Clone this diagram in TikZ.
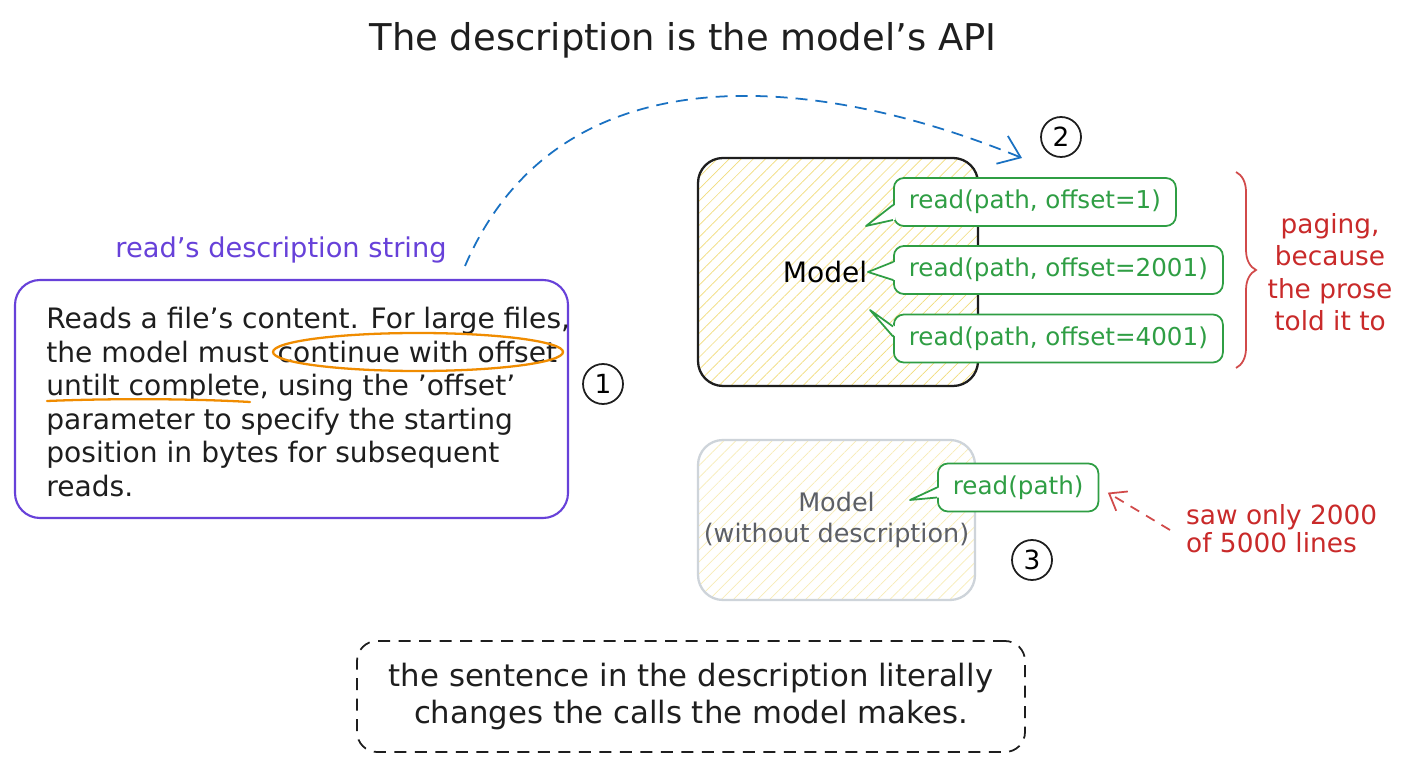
\documentclass[tikz,border=0pt]{standalone}
\usepackage{fontspec}
\setmainfont{DejaVu Sans}
\usepackage{tikz}
\usetikzlibrary{positioning,calc,arrows.meta,patterns.meta,
                decorations.pathreplacing}
\definecolor{ink}      {HTML}{1E1E1E}
\definecolor{violet}   {HTML}{6741D9}
\definecolor{marker}   {HTML}{F08C00}
\definecolor{linkblue} {HTML}{1971C2}
\definecolor{callgreen}{HTML}{2F9E44}
\definecolor{notered}  {HTML}{C92A2A}
\definecolor{greyline} {HTML}{CED4DA}
\definecolor{greytext} {HTML}{5C5F66}
\definecolor{hatch}    {HTML}{F2DC7A}
\newcommand{\fsz}[2]{\fontsize{#1}{#2}\selectfont}
\tikzset{
  every node/.style={font=\fsz{16}{19}},
  % --- nodes
  title/.style   = {font=\fsz{21}{25}, text=ink},
  tag/.style     = {font=\fsz{15.5}{19}, text=violet},
  descbox/.style = {draw=violet, line width=1.2pt, rounded corners=5mm,
                    minimum width=110.6mm, minimum height=47.6mm},
  desctext/.style= {align=left, font=\fsz{16}{19.06}, text=ink, inner sep=0pt},
  num/.style     = {circle, draw=ink, line width=1pt, minimum size=8mm,
                    inner sep=0pt, font=\fsz{15}{18}},
  modelbox/.style= {draw=ink, line width=1.3pt, rounded corners=5mm, inner sep=0pt,
                    pattern={Lines[angle=45,distance=1.7mm,line width=0.4pt]},
                    pattern color=hatch},
  ghostbox/.style= {modelbox, draw=greyline, pattern color=hatch!55, text=greytext,
                    align=center, font=\fsz{14.5}{18}},
  call/.style    = {draw=callgreen, fill=white, line width=1pt, rounded corners=2mm,
                    text=callgreen, font=\fsz{14}{17}, minimum height=9.6mm,
                    inner xsep=3mm, anchor=west},
  remark/.style  = {text=notered, font=\fsz{15}{18.5}},
  takeaway/.style= {draw=ink, line width=1pt, dash pattern=on 2.4mm off 1.7mm,
                    rounded corners=4mm, minimum width=133.6mm, minimum height=22.2mm,
                    align=center, font=\fsz{17.5}{21}, text=ink},
  % --- edges
  tailline/.style= {draw=callgreen, line width=1pt, line join=round},
  link/.style    = {draw=linkblue, line width=1pt, dash pattern=on 2.4mm off 1.6mm,
                    -{Straight Barb[length=4mm,width=6mm]}},
  hint/.style    = {draw=notered!85, line width=1pt, dash pattern=on 2mm off 1.6mm,
                    -{Straight Barb[length=3mm,width=4.5mm]}},
  hilite/.style  = {draw=marker, line width=1.3pt, line cap=round},
}
\begin{document}
\begin{tikzpicture}[x=0.2mm,y=-0.2mm]
  \fill[white] (0,0) rectangle (1408,768);
  \useasboundingbox (0,0) rectangle (1408,768);

  \node[title] (head) at (683,40) {The description is the model's API};

  % description string
  \node[tag] (tag) at (281,250) {read's description string};
  \node[descbox] (desc) at (291.5,399) {};
  \node[desctext, anchor=west] (desctxt) at (46,402)
    {Reads a file's content. For large files,\\
     the model must continue with offset\\
     untilt complete, using the 'offset'\\
     parameter to specify the starting\\
     position in bytes for subsequent\\
     reads.};
  \coordinate (hl) at (418,352);
  \draw[hilite] (hl) ellipse [x radius=29mm, y radius=3.8mm];
  \draw[hilite] (47,401) .. controls (120,398) and (200,399) .. (250,402);
  \node[num] (n1) at (603,384) {1};

  % model with description
  \node[modelbox, minimum width=56mm, minimum height=45.6mm] (model) at (838,272) {};
  \node (mlab) at (825,272) {Model};
  \node[call] (c1) at (893,202)   {read(path, offset=1)};
  \node[call] (c2) at (893,270)   {read(path, offset=2001)};
  \node[call] (c3) at (893,338.5) {read(path, offset=4001)};
  \node[num] (n2) at (1061,137) {2};

  % model without description
  \node[ghostbox, minimum width=55.4mm, minimum height=32mm] (ghost) at (836.5,520)
    {Model\\(without description)};
  \node[call] (c4) at (937,487.5) {read(path)};
  \node[num] (n3) at (1032,560) {3};

  % speech tails
  \foreach \b/\ya/\yb/\tx/\ty in {c1/3/18/866/226, c2/-8/10/868/272,
                                  c3/-12/-2/870/310, c4/0/10/910/500}{
    \fill[white] ($(\b.west)+(2,\ya)$) -- (\tx,\ty) -- ($(\b.west)+(2,\yb)$) -- cycle;
    \draw[tailline] ($(\b.west)+(0,\ya)$) -- (\tx,\ty) -- ($(\b.west)+(0,\yb)$);
  }

  % blue link
  \coordinate (ls) at (465,266);
  \coordinate (le) at (1022,158);
  \draw[link] (ls) .. controls (560,45) and (820,75) .. (le);

  % paging brace
  \coordinate (bt) at (1236,172);
  \coordinate (bb) at (1236,368);
  \draw[draw=notered!85, line width=1pt, decorate,
        decoration={brace, amplitude=4mm}] (bt) -- (bb);
  \node[remark, align=center, font=\fsz{15}{18.5}] (paging) at (1330,272)
    {paging,\\because\\the prose\\told it to};

  % missing lines
  \node[remark, align=left, anchor=west, font=\fsz{15}{16}] (saw) at (1180,529)
    {saw only 2000\\of 5000 lines};
  \coordinate (hs) at (1170,530);
  \draw[hint, shorten >=2mm] (hs) -- (c4.east);

  % takeaway
  \node[takeaway] (take) at (691,696.5)
    {the sentence in the description literally\\changes the calls the model makes.};
\end{tikzpicture}
\end{document}
